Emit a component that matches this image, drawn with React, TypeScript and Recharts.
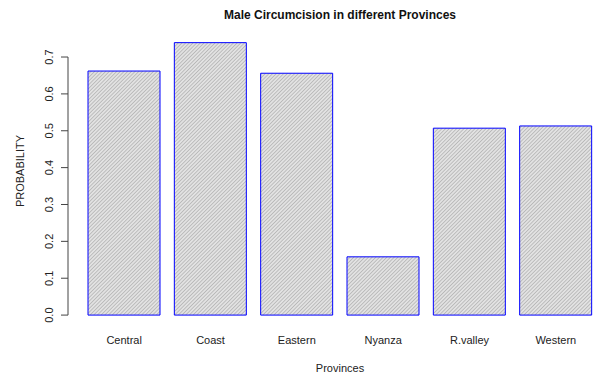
import React from "react";
import { Bar, BarChart, XAxis, YAxis } from "recharts";

const provinces = ["Central", "Coast", "Eastern", "Nyanza", "R.valley", "Western"];
const probability = [0.662, 0.739, 0.656, 0.158, 0.507, 0.513];
const yTicks = [0, 0.1, 0.2, 0.3, 0.4, 0.5, 0.6, 0.7];
const yTickLabels = ["0.0", "0.1", "0.2", "0.3", "0.4", "0.5", "0.6", "0.7"];

const data = provinces.map((name, i) => ({ name, value: probability[i] }));

const FONT = '"Liberation Sans", Arial, Helvetica, sans-serif';
const AXIS_X = 68;
const TOP = 31;
const X_AXIS_H = 50;
const HEIGHT = 376;
// R pads the y range by 4% on each side of [0, max]
const Y_DOMAIN: [number, number] = [-0.0296, 0.7706];
const PX_PER_UNIT = (HEIGHT - TOP - X_AXIS_H) / (Y_DOMAIN[1] - Y_DOMAIN[0]);

function YTick(props: any) {
  const { y, index } = props;
  const span = (yTicks[yTicks.length - 1] - yTicks[0]) * PX_PER_UNIT;
  return (
    <g>
      {index === 0 && (
        <line x1={AXIS_X} x2={AXIS_X} y1={y} y2={y - span} stroke="#444" strokeWidth={1} />
      )}
      <line x1={AXIS_X - 7} x2={AXIS_X} y1={y} y2={y} stroke="#444" strokeWidth={1} />
      <text
        x={53}
        y={y}
        transform={`rotate(-90 53 ${y})`}
        textAnchor="middle"
        fontSize={11}
        fontFamily={FONT}
        fill="#222"
      >
        {yTickLabels[index]}
      </text>
    </g>
  );
}

function XTick(props: any) {
  const { x, payload } = props;
  return (
    <text x={x} y={344} textAnchor="middle" fontSize={11} fontFamily={FONT} fill="#222">
      {payload.value}
    </text>
  );
}

export default function App() {
  return (
    <div
      style={{
        position: "absolute",
        left: 0,
        top: 0,
        width: 594,
        height: HEIGHT,
        overflow: "hidden",
        background: "#fff",
        fontFamily: FONT
      }}
    >
      <div
        style={{
          position: "absolute",
          left: 140,
          top: 8,
          width: 400,
          textAlign: "center",
          fontSize: 12,
          lineHeight: "14px",
          fontWeight: "bold",
          color: "#111"
        }}
      >
        Male Circumcision in different Provinces
      </div>
      <BarChart
        width={600}
        height={HEIGHT}
        data={data}
        margin={{ top: TOP, right: 1, bottom: 0, left: 0 }}
        barCategoryGap={7}
      >
        <defs>
          {/* dense 45° shading lines, like barplot(density=...) */}
          <pattern
            id="hatch"
            patternUnits="userSpaceOnUse"
            width={2.6}
            height={2.6}
            patternTransform="rotate(45)"
          >
            <rect width={2.6} height={2.6} fill="#e2e2e2" />
            <line x1={0} y1={0} x2={0} y2={2.6} stroke="#aaaaaa" strokeWidth={1.3} />
          </pattern>
        </defs>
        <XAxis
          dataKey="name"
          height={X_AXIS_H}
          padding={{ left: 13, right: 0 }}
          axisLine={false}
          tickLine={false}
          tick={<XTick />}
          interval={0}
          label={{
            content: () => (
              <text x={340} y={372} textAnchor="middle" fontSize={11} fontFamily={FONT} fill="#222">
                Provinces
              </text>
            )
          }}
        />
        <YAxis
          type="number"
          domain={Y_DOMAIN}
          ticks={yTicks}
          width={AXIS_X}
          axisLine={false}
          tickLine={false}
          tick={<YTick />}
          interval={0}
          allowDataOverflow
          label={{
            content: () => (
              <text
                x={24}
                y={171}
                transform="rotate(-90 24 171)"
                textAnchor="middle"
                fontSize={11}
                fontFamily={FONT}
                fill="#222"
              >
                PROBABILITY
              </text>
            )
          }}
        />
        <Bar
          dataKey="value"
          fill="url(#hatch)"
          stroke="#0000ff"
          strokeWidth={1}
          isAnimationActive={false}
        />
      </BarChart>
    </div>
  );
}
